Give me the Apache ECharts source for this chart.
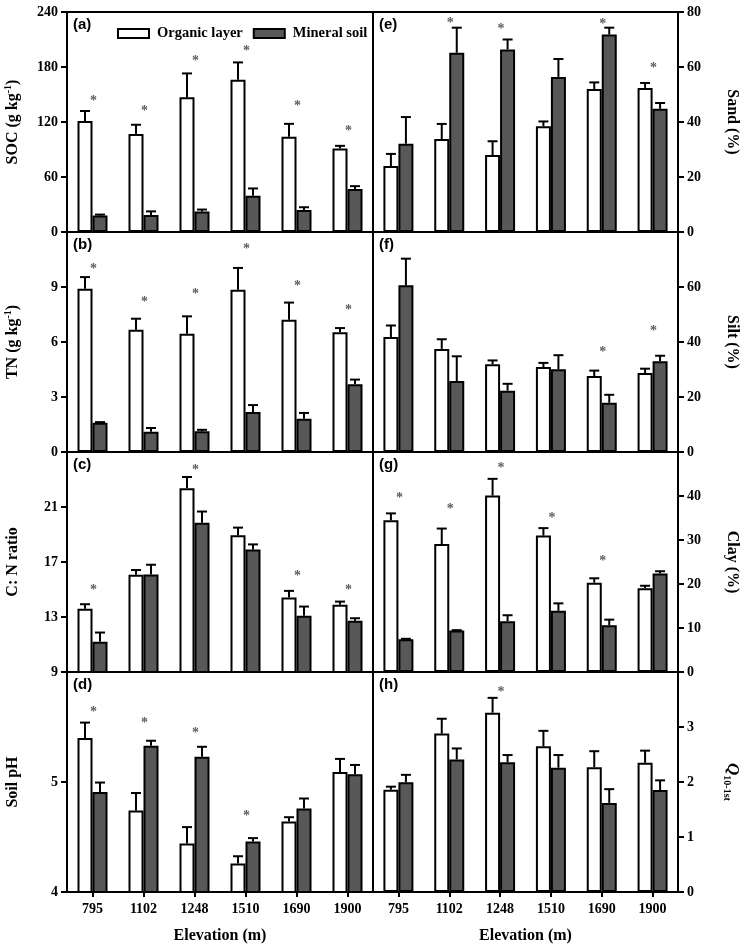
<!DOCTYPE html>
<html>
<head>
<meta charset="utf-8">
<script src="https://cdn.jsdelivr.net/npm/echarts@6/dist/echarts.min.js"></script>
<style>html,body{margin:0;padding:0;background:#fff;}#c{width:745px;height:948px;}</style>
</head>
<body>
<div id="c"></div>
<script>
const elevations = ['795', '1102', '1248', '1510', '1690', '1900'];

// (a) SOC
const socOrg = [121, 107, 147, 166, 104, 91];
const socOrgErr = [11, 10, 26, 19, 14, 3];
const socMin = [18, 18.5, 22.5, 39.5, 24, 47];
const socMinErr = [1, 4, 2, 8, 3, 3];
const socSig = [147, 136, 191, 201, 141, 114];

// (b) TN
const tnOrg = [8.9, 6.67, 6.45, 8.85, 7.22, 6.53];
const tnOrgErr = [0.64, 0.6, 0.95, 1.19, 0.93, 0.23];
const tnMin = [1.6, 1.11, 1.13, 2.18, 1.82, 3.69];
const tnMinErr = [0.03, 0.2, 0.08, 0.38, 0.31, 0.26];
const tnSig = [10.18, 8.36, 8.82, 11.27, 9.27, 7.95];

// (c) C:N ratio
const cnOrg = [13.6, 16.08, 22.36, 18.95, 14.41, 13.9];
const cnOrgErr = [0.33, 0.34, 0.82, 0.55, 0.49, 0.22];
const cnMin = [11.2, 16.1, 19.85, 17.91, 13.1, 12.72];
const cnMinErr = [0.67, 0.7, 0.82, 0.37, 0.66, 0.19];
const cnSig = [15.26, null, 23.95, null, 16.25, 15.26];

// (d) Soil pH
const phOrg = [5.40, 4.74, 4.44, 4.26, 4.64, 5.09];
const phOrgErr = [0.14, 0.16, 0.15, 0.065, 0.04, 0.12];
const phMin = [4.91, 5.33, 5.23, 4.46, 4.76, 5.07];
const phMinErr = [0.085, 0.045, 0.09, 0.03, 0.09, 0.085];
const phSig = [5.67, 5.57, 5.48, 4.72, null, null];

// (e) Sand
const sandOrg = [24, 33.8, 28, 38.5, 52, 52.4];
const sandOrgErr = [4.4, 5.5, 5, 1.7, 2.4, 1.8];
const sandMin = [32.1, 65.2, 66.4, 56.4, 71.8, 44.8];
const sandMinErr = [9.7, 9.1, 3.6, 6.5, 2.5, 2.1];
const sandSig = [null, 77.2, 75.2, null, 77, 61];

// (f) Silt
const siltOrg = [41.8, 37.5, 31.9, 30.9, 27.6, 28.7];
const siltOrgErr = [4.2, 3.5, 1.4, 1.5, 2, 1.6];
const siltMin = [60.6, 25.8, 22.3, 30.1, 17.9, 33];
const siltMinErr = [9.7, 9, 2.5, 5.1, 2.9, 2];
const siltSig = [null, null, null, null, 37.8, 45.2];

// (g) Clay
const clayOrg = [34.5, 29.1, 40.1, 31, 20.3, 19.05];
const clayOrgErr = [1.55, 3.5, 3.8, 1.7, 1, 0.55];
const clayMin = [7.44, 9.41, 11.54, 13.9, 10.6, 22.4];
const clayMinErr = [0.1, 0.1, 1.36, 1.7, 1.3, 0.5];
const claySig = [40.4, 37.8, 47.2, 35.8, 26, null];

// (h) Q10-1st
const qOrg = [1.86, 2.88, 3.26, 2.65, 2.27, 2.35];
const qOrgErr = [0.055, 0.27, 0.27, 0.28, 0.29, 0.22];
const qMin = [1.994, 2.41, 2.36, 2.26, 1.62, 1.855];
const qMinErr = [0.136, 0.2, 0.13, 0.23, 0.25, 0.175];
const qSig = [null, null, 3.7, null, null, null];

const panels = [
  {tag:'(a)', col:0, row:0, org:socOrg, orgErr:socOrgErr, min:socMin, minErr:socMinErr, sig:socSig, ymin:0, ymax:240, step:60, showMax:true, name:'{b|SOC (g kg}{sup|-1}{b|)}'},
  {tag:'(b)', col:0, row:1, org:tnOrg, orgErr:tnOrgErr, min:tnMin, minErr:tnMinErr, sig:tnSig, ymin:0, ymax:12, step:3, showMax:false, name:'{b|TN (g kg}{sup|-1}{b|)}'},
  {tag:'(c)', col:0, row:2, org:cnOrg, orgErr:cnOrgErr, min:cnMin, minErr:cnMinErr, sig:cnSig, ymin:9, ymax:25, step:4, showMax:false, name:'{b|C: N ratio}'},
  {tag:'(d)', col:0, row:3, org:phOrg, orgErr:phOrgErr, min:phMin, minErr:phMinErr, sig:phSig, ymin:4, ymax:6, step:1, showMax:false, name:'{b|Soil pH}'},
  {tag:'(e)', col:1, row:0, org:sandOrg, orgErr:sandOrgErr, min:sandMin, minErr:sandMinErr, sig:sandSig, ymin:0, ymax:80, step:20, showMax:true, name:'{b|Sand (%)}'},
  {tag:'(f)', col:1, row:1, org:siltOrg, orgErr:siltOrgErr, min:siltMin, minErr:siltMinErr, sig:siltSig, ymin:0, ymax:80, step:20, showMax:false, name:'{b|Silt (%)}'},
  {tag:'(g)', col:1, row:2, org:clayOrg, orgErr:clayOrgErr, min:clayMin, minErr:clayMinErr, sig:claySig, ymin:0, ymax:50, step:10, showMax:false, name:'{b|Clay (%)}'},
  {tag:'(h)', col:1, row:3, org:qOrg, orgErr:qOrgErr, min:qMin, minErr:qMinErr, sig:qSig, ymin:0, ymax:4, step:1, showMax:false, name:'{q|Q}{sub|10-1st}'}
];

const FONT = 'Liberation Serif';
const BAR_W = 15;
const TOPS = [12, 232, 452, 672];
const PH = 220;

const grids = [], xAxes = [], yAxes = [], series = [], graphics = [];

const nameRich = {
  b: {fontFamily: FONT, fontWeight: 'bold', fontSize: 16, color: '#000', lineHeight: 20},
  sup: {fontFamily: FONT, fontWeight: 'bold', fontSize: 10, color: '#000', verticalAlign: 'top', lineHeight: 12},
  q: {fontFamily: FONT, fontWeight: 'bold', fontStyle: 'italic', fontSize: 17, color: '#000', lineHeight: 20},
  sub: {fontFamily: FONT, fontWeight: 'bold', fontSize: 10, color: '#000', verticalAlign: 'bottom', lineHeight: 12}
};

function errSeries(gi, data, err, offset) {
  return {
    type: 'custom', xAxisIndex: gi, yAxisIndex: gi, z: 5, silent: true,
    data: data.map((v, i) => [i, v, err[i]]),
    renderItem: function (params, api) {
      const i = api.value(0), v = api.value(1), e = api.value(2);
      const p0 = api.coord([i, v]);
      const p1 = api.coord([i, v + e]);
      const x = p0[0] + offset;
      const st = {stroke: '#000', lineWidth: 2};
      return {type: 'group', children: [
        {type: 'line', shape: {x1: x, y1: p0[1], x2: x, y2: p1[1]}, style: st},
        {type: 'line', shape: {x1: x - 5, y1: p1[1], x2: x + 5, y2: p1[1]}, style: st}
      ]};
    }
  };
}

panels.forEach((p, gi) => {
  const left = p.col === 0 ? 67 : 373;
  const width = p.col === 0 ? 306 : 305;
  const top = TOPS[p.row];
  const bottomRow = p.row === 3;
  grids.push({left: left, top: top, width: width, height: PH, show: true, borderColor: '#000', borderWidth: 2, backgroundColor: 'transparent', containLabel: false});
  xAxes.push({
    type: 'category', gridIndex: gi, data: elevations,
    axisLine: {show: true, lineStyle: {color: '#000', width: 2}},
    axisTick: {show: bottomRow, alignWithLabel: true, length: 5, lineStyle: {color: '#000', width: 2}},
    axisLabel: {show: bottomRow, fontFamily: FONT, fontWeight: 'bold', fontSize: 14, color: '#000', margin: 10},
    name: bottomRow ? 'Elevation (m)' : '', nameLocation: 'middle', nameGap: 36,
    nameTextStyle: {fontFamily: FONT, fontWeight: 'bold', fontSize: 16, color: '#000'}
  });
  yAxes.push({
    type: 'value', gridIndex: gi, min: p.ymin, max: p.ymax, interval: p.step,
    position: p.col === 0 ? 'left' : 'right',
    axisLine: {show: true, lineStyle: {color: '#000', width: 2}},
    axisTick: {show: true, inside: false, length: 6, lineStyle: {color: '#000', width: 2}},
    splitLine: {show: false},
    axisLabel: {fontFamily: FONT, fontWeight: 'bold', fontSize: 14, color: '#000', margin: 9, showMaxLabel: p.showMax, showMinLabel: true},
    name: p.name, nameLocation: 'middle', nameGap: 44,
    nameRotate: p.col === 0 ? 90 : -90,
    nameTextStyle: {rich: nameRich}
  });
  series.push({
    name: 'Organic layer', type: 'bar', xAxisIndex: gi, yAxisIndex: gi, data: p.org,
    barWidth: BAR_W, barGap: '0%', z: 3,
    itemStyle: {color: '#ffffff', borderColor: '#000', borderWidth: 2}
  });
  series.push({
    name: 'Mineral soil', type: 'bar', xAxisIndex: gi, yAxisIndex: gi, data: p.min,
    barWidth: BAR_W, barGap: '0%', z: 3,
    itemStyle: {color: '#585858', borderColor: '#000', borderWidth: 2}
  });
  series.push(errSeries(gi, p.org, p.orgErr, -BAR_W / 2));
  series.push(errSeries(gi, p.min, p.minErr, BAR_W / 2));
  series.push({
    type: 'scatter', xAxisIndex: gi, yAxisIndex: gi, silent: true, z: 6,
    symbolSize: 1, itemStyle: {color: 'rgba(0,0,0,0)'},
    data: p.sig.map((v, i) => v == null ? null : [i, v]).filter(d => d),
    label: {show: true, position: 'inside', formatter: '*', fontFamily: FONT, fontWeight: 'bold', fontSize: 14, color: '#333', offset: [1, 4]}
  });
  graphics.push({
    type: 'text', left: left + 6, top: top + 5,
    style: {text: p.tag, font: 'bold 15px "Liberation Sans"', fill: '#000'}
  });
});

const chart = echarts.init(document.getElementById('c'), null, {renderer: 'canvas'});
chart.setOption({
  backgroundColor: '#fff',
  animation: false,
  legend: {
    left: 112, top: 21, itemWidth: 31, itemHeight: 9, itemGap: 10, icon: 'rect',
    data: ['Organic layer', 'Mineral soil'],
    textStyle: {fontFamily: FONT, fontWeight: 'bold', fontSize: 14.5, color: '#000', padding: [0, 0, 0, 3]}
  },
  grid: grids, xAxis: xAxes, yAxis: yAxes, series: series, graphic: graphics
});
</script>
</body>
</html>
